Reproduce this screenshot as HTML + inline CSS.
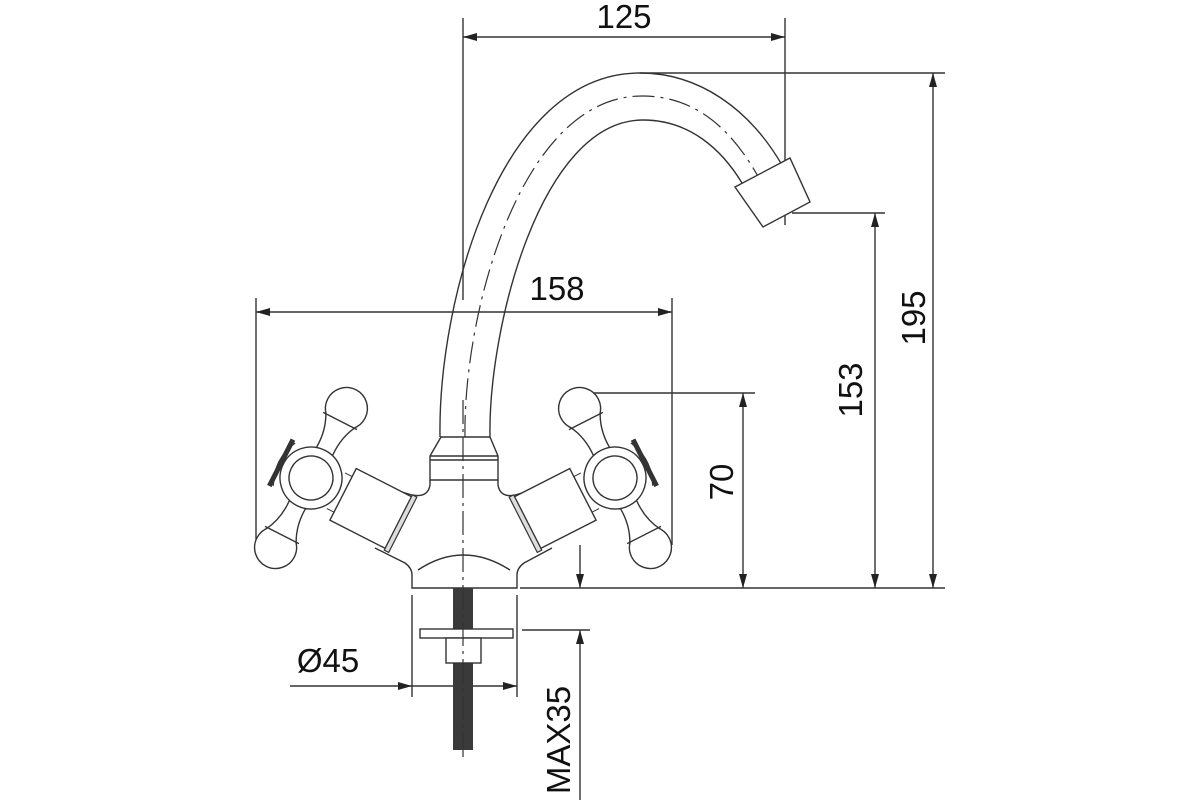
<!DOCTYPE html>
<html><head><style>html,body{margin:0;padding:0;background:#fff}svg{display:block}</style></head>
<body>
<svg width="1200" height="800" viewBox="0 0 1200 800" xmlns="http://www.w3.org/2000/svg" font-family="Liberation Sans, sans-serif">
<defs>
<marker id="a" markerWidth="14" markerHeight="8" refX="14" refY="4" orient="auto" markerUnits="userSpaceOnUse"><path d="M0,0 L14,4 L0,8 Z" fill="#222"/></marker>
<marker id="b" markerWidth="14" markerHeight="8" refX="0" refY="4" orient="auto" markerUnits="userSpaceOnUse"><path d="M14,0 L0,4 L14,8 Z" fill="#222"/></marker>
<g id="h">
  <circle cx="0" cy="-78" r="21" fill="#fff" stroke="#333" stroke-width="1.4"/>
  <path d="M-17,-66 Q-8,-50 -9,-30 L9,-30 Q8,-50 17,-66" fill="#fff" stroke="#333" stroke-width="1.4"/>
  <line x1="-19" y1="-64" x2="19" y2="-64" stroke="#333" stroke-width="1.4"/>
  <circle cx="0" cy="78" r="21" fill="#fff" stroke="#333" stroke-width="1.4"/>
  <path d="M-17,66 Q-8,50 -9,30 L9,30 Q8,50 17,66" fill="#fff" stroke="#333" stroke-width="1.4"/>
  <line x1="-19" y1="64" x2="19" y2="64" stroke="#333" stroke-width="1.4"/>
  <path d="M-30,-24 Q-42,0 -30,24" fill="#fff" stroke="#333" stroke-width="1.2"/>
  <circle cx="0" cy="0" r="31" fill="#fff" stroke="#333" stroke-width="1.4"/>
  <circle cx="0" cy="0" r="22" fill="#fff" stroke="#333" stroke-width="1.4"/>
  <rect x="-36" y="-26" width="5" height="52" fill="#333"/>
  <line x1="28" y1="-20" x2="36" y2="-20" stroke="#333"/>
  <line x1="28" y1="20" x2="36" y2="20" stroke="#333"/>
  <rect x="36" y="-29" width="62" height="58" fill="#fff" stroke="#333" stroke-width="1.4"/>
  <rect x="98" y="-31" width="5" height="62" fill="#ddd" stroke="#333" stroke-width="1.2"/>
</g>
</defs>
<g stroke="#333" stroke-width="1.4" fill="none">
  <line x1="463" y1="18" x2="463" y2="300"/>
  <line x1="785" y1="18" x2="785" y2="225"/>
  <line x1="463" y1="37" x2="785" y2="37" marker-start="url(#b)" marker-end="url(#a)"/>
  <line x1="256" y1="298" x2="256" y2="545"/>
  <line x1="672" y1="298" x2="672" y2="545"/>
  <line x1="256" y1="312" x2="672" y2="312" marker-start="url(#b)" marker-end="url(#a)"/>
  <line x1="640" y1="73" x2="945" y2="73"/>
  <line x1="792" y1="213" x2="885" y2="213"/>
  <line x1="590" y1="393" x2="755" y2="393"/>
  <line x1="520" y1="588" x2="945" y2="588"/>
  <line x1="933" y1="73" x2="933" y2="588" marker-start="url(#b)" marker-end="url(#a)"/>
  <line x1="875" y1="213" x2="875" y2="588" marker-start="url(#b)" marker-end="url(#a)"/>
  <line x1="743" y1="393" x2="743" y2="588" marker-start="url(#b)" marker-end="url(#a)"/>
  <path d="M440,437 C438,300 500,73 640,73 C700,73 750,110 782,165"/>
  <path d="M490,437 C488,330 540,120 643,120 C690,120 722,150 742,183"/>
  <path d="M465,437 C463,315 520,96 642,96 C700,96 740,135 770,200" stroke-dasharray="22,6,3,6" stroke-width="1.2"/>
  <path d="M735,187 L790,158 L810,202 L763,227 Z" fill="#fff"/>
  <path d="M441,437 L490,437 L498,456 L498,480 L430,480 L430,456 Z" fill="#fff"/>
  <line x1="430" y1="456" x2="498" y2="456"/>
  <line x1="430" y1="460" x2="498" y2="460"/>
  <path d="M430,480 L430,485 Q428,498 412,495 L395,490 M498,480 L498,485 Q500,498 515,495 L532,490"/>
  <path d="M375,548 L405,563 Q412,568 412,575 L412,588 L517,588 L517,575 Q517,568 524,563 L552,548"/>
  <path d="M418,570 Q463,540 510,570"/>
  <line x1="412" y1="595" x2="412" y2="697"/>
  <line x1="517" y1="595" x2="517" y2="697"/>
  <line x1="290" y1="686" x2="412" y2="686" marker-end="url(#a)"/>
  <line x1="412" y1="686" x2="517" y2="686" marker-end="url(#a)"/>
  <line x1="522" y1="630" x2="590" y2="630"/>
  <line x1="580" y1="545" x2="580" y2="588" marker-end="url(#a)"/>
  <line x1="580" y1="800" x2="580" y2="630" marker-end="url(#a)"/>
</g>
<rect x="453" y="588" width="20" height="162" fill="#3a3a3a"/>
<rect x="420" y="629" width="93" height="9" fill="#fff" stroke="#333" stroke-width="1.4"/>
<rect x="446" y="638" width="35" height="25" fill="#fff" stroke="#333" stroke-width="1.4"/>
<line x1="463" y1="400" x2="463" y2="760" stroke="#333" stroke-width="1.2" stroke-dasharray="24,5,3,5"/>
<g transform="translate(311,478) rotate(27)"><use href="#h"/></g>
<g transform="translate(926,0) scale(-1,1)"><g transform="translate(311,478) rotate(27)"><use href="#h"/></g></g>
<g fill="#111" font-size="33">
  <text x="624" y="28" text-anchor="middle">125</text>
  <text x="557" y="300" text-anchor="middle">158</text>
  <text x="328" y="672" text-anchor="middle">Ø45</text>
  <text transform="translate(925,318) rotate(-90)" text-anchor="middle">195</text>
  <text transform="translate(862,390) rotate(-90)" text-anchor="middle">153</text>
  <text transform="translate(733,482) rotate(-90)" text-anchor="middle">70</text>
  <text transform="translate(570,740) rotate(-90)" text-anchor="middle">MAX35</text>
</g>
</svg>
</body></html>
